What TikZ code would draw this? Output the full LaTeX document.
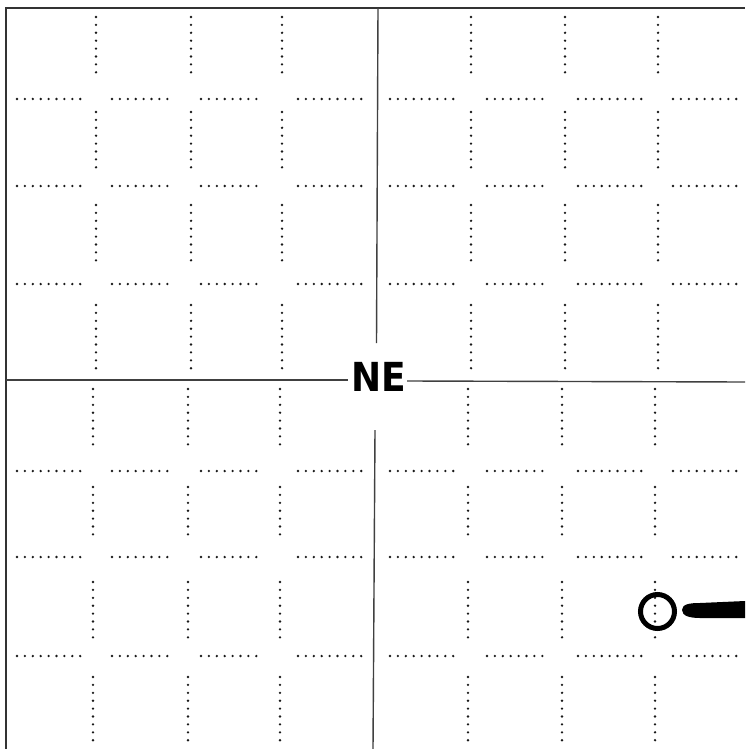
\documentclass[tikz,border=0pt]{standalone}
\usepackage{fontspec}
\setmainfont{Liberation Sans}
\newfontfamily\nefont{DejaVu Sans Condensed}
\begin{document}
\begin{tikzpicture}[x=1pt,y=-1pt,
  frameline/.style={line width=1.5pt, draw=black!80},
  axisline/.style={line width=1.4pt, draw=black!75},
  dotline/.style={line width=2.6pt, line cap=round, dash pattern=on 0pt off 7.9pt, draw=black!90},
  marker/.style={line width=5pt, draw=black}]
\useasboundingbox (0,0) rectangle (745,749);
\fill[white] (0,0) rectangle (745,749);
% frame
\draw[frameline] (6,749) -- (6,8) -- (745,8);
% vertical dotted segments, upper half
\foreach \x in {96,191,282,471,565,658}{
  \foreach \a/\b in {17/80,112/168,205/265,305/369}{
    \draw[dotline] (\x,\a) -- (\x,\b);
  }
}
% vertical dotted segments, lower half
\foreach \x in {93,188,280,468,562,655}{
  \foreach \a/\b in {389/451,487/540,582/638,677/742}{
    \draw[dotline] (\x,\a) -- (\x,\b);
  }
}
% horizontal dotted segments
\foreach \y in {99,186,284,471,557,656}{
  \foreach \a/\b in {17/81,112/173,201/263,298/366,390/455,487/548,578/643,673/743}{
    \draw[dotline] (\a,\y) -- (\b,\y);
  }
}
% centre axes
\node[font=\nefont\bfseries\fontsize{40}{40}\selectfont, inner sep=0pt] (ne) at (379,377) {NE};
\coordinate (vt) at (378,8);
\coordinate (vb) at (373,749);
\coordinate (hl) at (6,380);
\coordinate (hr) at (745,382);
\draw[axisline] (vt) -- (376.5,343);
\draw[axisline] (375,430) -- (vb);
\draw[axisline] (hl) -- (348,380);
\draw[axisline] (407,381) -- (hr);
% marker circle and bar
\draw[marker] (657.5,611.5) circle (17pt);
\fill[black] (682,610) .. controls (682,604) and (690,603) .. (700,603) -- (745,601) -- (745,618) -- (700,618) .. controls (690,618) and (682,616) .. (682,610) -- cycle;
\end{tikzpicture}
\end{document}
